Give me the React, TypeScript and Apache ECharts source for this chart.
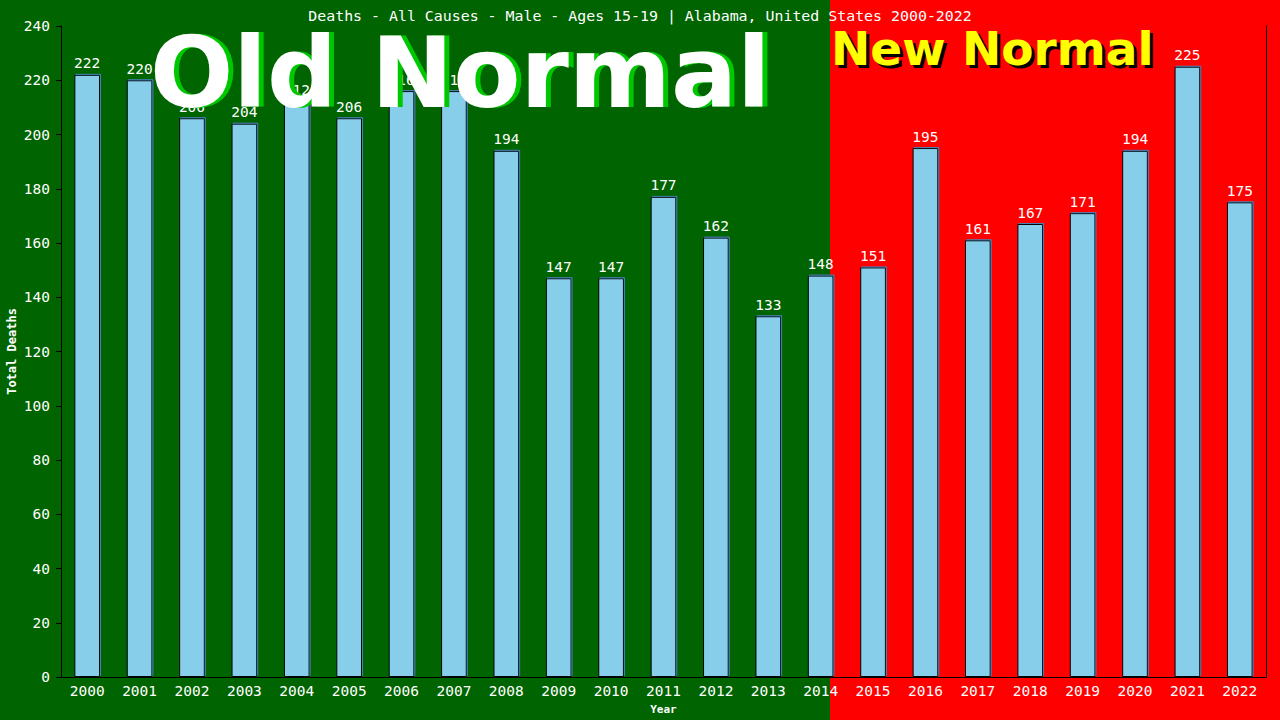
import React, { useRef, useEffect } from 'react';
import * as echarts from 'echarts';

const YEARS = ['2000', '2001', '2002', '2003', '2004', '2005', '2006', '2007', '2008', '2009', '2010', '2011',
  '2012', '2013', '2014', '2015', '2016', '2017', '2018', '2019', '2020', '2021', '2022'];
const DEATHS = [222, 220, 206, 204, 212, 206, 216, 216, 194, 147, 147, 177, 162, 133, 148, 151, 195, 161, 167, 171, 194, 225, 175];

const TITLE = 'Deaths - All Causes - Male - Ages 15-19 | Alabama, United States 2000-2022';
const MONO = '"DejaVu Sans Mono", "Liberation Mono", monospace';
const SANS = '"DejaVu Sans", Verdana, sans-serif';

export default function App() {
  const chartRef = useRef<HTMLDivElement>(null);

  useEffect(() => {
    if (!chartRef.current) return;
    const chart = echarts.init(chartRef.current, null, { renderer: 'svg' });

    const option = {
      animation: false,
      backgroundColor: '#006400',
      title: {
        text: TITLE,
        left: 'center',
        top: 3,
        textStyle: { color: '#ffffff', fontFamily: MONO, fontSize: 14.9, fontWeight: 'normal' }
      },
      grid: { left: 61, right: 14, top: 26, bottom: 43, outerBoundsMode: 'none', containLabel: false },
      graphic: [
        { type: 'rect', z: -10, shape: { x: 0, y: 0, width: 830, height: 720 }, style: { fill: '#006400' }, silent: true },
        { type: 'rect', z: -10, shape: { x: 830, y: 0, width: 450, height: 720 }, style: { fill: '#ff0000' }, silent: true },
        {
          type: 'text', z: 100, x: 155, y: 122,
          style: { text: 'Old Normal', fill: '#00c800', font: `bold 98px ${SANS}`, verticalAlign: 'bottom' }
        },
        {
          type: 'text', z: 101, x: 150, y: 122,
          style: { text: 'Old Normal', fill: '#ffffff', font: `bold 98px ${SANS}`, verticalAlign: 'bottom' }
        },
        {
          type: 'text', z: 100, x: 834, y: 75,
          style: { text: 'New Normal', fill: '#000000', font: `bold 47px ${SANS}`, verticalAlign: 'bottom' }
        },
        {
          type: 'text', z: 101, x: 831, y: 72,
          style: { text: 'New Normal', fill: '#ffff00', font: `bold 47px ${SANS}`, verticalAlign: 'bottom' }
        }
      ],
      xAxis: {
        type: 'category',
        data: YEARS,
        name: 'Year',
        nameLocation: 'middle',
        nameGap: 27,
        nameTextStyle: { color: '#ffffff', fontFamily: MONO, fontSize: 11, fontWeight: 'bold' },
        axisLine: { lineStyle: { color: '#000000', width: 1 } },
        axisTick: { show: false },
        axisLabel: { color: '#ffffff', fontFamily: MONO, fontSize: 14.5, margin: 6 }
      },
      yAxis: [
        {
          type: 'value',
          min: 0,
          max: 240,
          interval: 20,
          name: 'Total Deaths',
          nameLocation: 'middle',
          nameGap: 43,
          nameMoveOverlap: false,
          nameTextStyle: { color: '#ffffff', fontFamily: MONO, fontSize: 12, fontWeight: 'bold' },
          axisLine: { show: true, lineStyle: { color: '#000000', width: 1 } },
          axisTick: { show: true, length: 5, lineStyle: { color: '#000000' } },
          axisLabel: { color: '#ffffff', fontFamily: MONO, fontSize: 14.5, margin: 11 },
          splitLine: { show: false }
        },
        {
          type: 'value',
          min: 0,
          max: 240,
          interval: 20,
          position: 'right',
          axisLine: { show: true, lineStyle: { color: '#000000', width: 1 } },
          axisTick: { show: false },
          axisLabel: { show: false },
          splitLine: { show: false }
        }
      ],
      series: [
        {
          type: 'bar',
          data: DEATHS,
          barWidth: '49%',
          itemStyle: {
            color: '#87ceeb',
            borderColor: '#000000',
            borderWidth: 1,
            shadowColor: '#4682b4',
            shadowOffsetX: 1,
            shadowOffsetY: -1,
            shadowBlur: 0
          },
          label: {
            show: true,
            position: 'top',
            distance: 4,
            color: '#ffffff',
            fontFamily: MONO,
            fontSize: 14.5
          },
          z: 5
        }
      ]
    };

    chart.setOption(option);
    return () => chart.dispose();
  }, []);

  return <div ref={chartRef} style={{ width: 1280, height: 720, position: 'absolute', left: 0, top: 0 }} />;
}
